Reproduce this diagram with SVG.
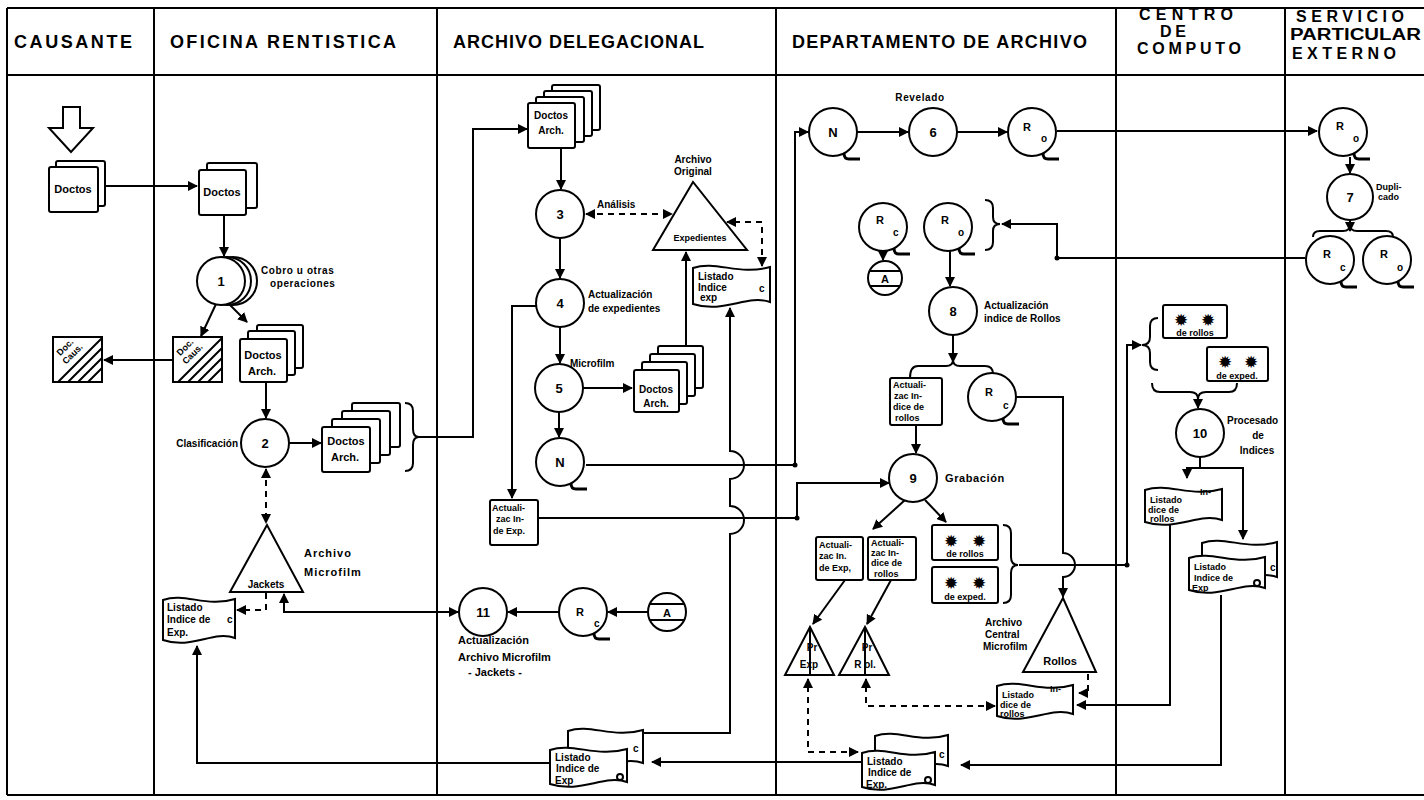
<svg xmlns="http://www.w3.org/2000/svg" xmlns:xlink="http://www.w3.org/1999/xlink" width="1424" height="800" viewBox="0 0 1424 800">
<style>
.ln{fill:none;stroke:#000;stroke-width:2}
.ds{fill:none;stroke:#000;stroke-width:2;stroke-dasharray:6 5}
.sh{fill:#fff;stroke:#000;stroke-width:2}
.t{font-family:"Liberation Sans",Arial,sans-serif;font-weight:bold;fill:#000}
.hd{font-size:18px}
.h2{font-size:16px}
.m{font-size:11px}
.s{font-size:10px}
.xs{font-size:9px}
.n{font-size:13px;text-anchor:middle}
.c{text-anchor:middle}
.st{font-family:"DejaVu Sans",sans-serif;font-size:17px;fill:#000;text-anchor:middle}
</style>
<defs>
<marker id="a" viewBox="0 0 10 10" refX="9" refY="5" markerWidth="10" markerHeight="10" markerUnits="userSpaceOnUse" orient="auto-start-reverse"><path d="M0,0 L10,5 L0,10 z" fill="#000"/></marker>
<g id="tape"><circle r="24" fill="#fff" stroke="#000" stroke-width="2"/><path d="M11,21 C11,25 12,27 16,27 H27" fill="none" stroke="#000" stroke-width="3"/></g>
</defs>
<rect width="1424" height="800" fill="#fff"/>

<g id="lanes" class="ln">
<path d="M7,8 H1424 M7,75 H1424 M7,795 H1424 M7,8 V795 M154,8 V795 M437,8 V795 M776,8 V795 M1116,8 V795 M1285,8 V795"/>
</g>
<g id="headers" class="t">
<text class="hd" x="14" y="48" textLength="118" lengthAdjust="spacing">CAUSANTE</text>
<text class="hd" x="170" y="48" textLength="226" lengthAdjust="spacing">OFICINA RENTISTICA</text>
<text class="hd" x="453" y="48" textLength="251" lengthAdjust="spacing">ARCHIVO DELEGACIONAL</text>
<text class="hd" x="792" y="48" textLength="295" lengthAdjust="spacing">DEPARTAMENTO DE ARCHIVO</text>
<text class="h2" x="1139" y="20" textLength="94" lengthAdjust="spacing">CENTRO</text>
<text class="h2" x="1160" y="37" textLength="26" lengthAdjust="spacing">DE</text>
<text class="h2" x="1137" y="54" textLength="104" lengthAdjust="spacing">COMPUTO</text>
<text class="h2" x="1296" y="22" textLength="108" lengthAdjust="spacing">SERVICIO</text>
<text class="h2" x="1290" y="40" textLength="131" lengthAdjust="spacingAndGlyphs">PARTICULAR</text>
<text class="h2" x="1292" y="59" textLength="104" lengthAdjust="spacing">EXTERNO</text>
</g>

<g id="connectors">
<g class="ln" marker-end="url(#a)">
<path d="M98,186 H197"/>
<path d="M173,360 H104"/>
<path d="M224,215 V256"/>
<path d="M216,304 L201,336"/>
<path d="M229,304 L247,322"/>
<path d="M266,382 V418"/>
<path d="M289,443 H321"/>
<path d="M419,437 H473 V129 H527"/>
<path d="M458,612 H284 V594" marker-start="url(#a)"/>
<path d="M550,763 H197 V646"/>
<path d="M561,148 V189"/>
<path d="M686,346 V252"/>
<path d="M643,733 H730 V534 A14,14 0 0 0 730,506 V479 A14,14 0 0 0 730,451 V308"/>
<path d="M560,238 V278"/>
<path d="M536,306 H512 V498"/>
<path d="M560,327 V363"/>
<path d="M583,388 H632"/>
<path d="M559,412 V437"/>
<path d="M586,465 H795 V132 H808"/>
<path d="M538,518 H797 V483 H889"/>
<path d="M559,612 H508"/>
<path d="M648,612 H608"/>
<path d="M862,762 H652"/>
<path d="M857,132 H908"/>
<path d="M957,132 H1007"/>
<path d="M1057,131 H1317"/>
<path d="M883,251 V260"/>
<path d="M950,251 V286"/>
<path d="M953,335 V362"/>
<path d="M1016,397 H1063 V553 A12,12 0 0 1 1063,577 V597"/>
<path d="M916,425 V453"/>
<path d="M905,500 L873,529"/>
<path d="M925,500 L946,522"/>
<path d="M845,580 L813,624"/>
<path d="M891,580 L867,624"/>
<path d="M1019,565 H1127 V345 H1141"/>
<path d="M1305,258 H1057 V224 H1002"/>
<path d="M1198,395 V408"/>
<path d="M1187,478 V468 H1243 V539" marker-start="url(#a)"/>
<path d="M1170,525 V705 H1077"/>
<path d="M1221,595 V765 H961"/>
<path d="M1350,157 V173"/>
<path d="M1350,220 V231"/>
</g>
<path class="ln" d="M1200,457 V468"/>
<g class="ds" marker-end="url(#a)" marker-start="url(#a)">
<path d="M266,469 V523"/>
<path d="M586,214 H672"/>
<path d="M762,266 V222 H727"/>
<path d="M858,752 H808 V679"/>
<path d="M995,706 H866 V679"/>
</g>
<g class="ds" marker-end="url(#a)">
<path d="M266,593 V610 H237"/>
<path d="M1088,674 V693 H1079"/>
</g>
<g fill="#000">
<circle cx="795" cy="465" r="2.5"/><circle cx="797" cy="518" r="2.5"/><circle cx="1127" cy="565" r="2.5"/><circle cx="1057" cy="258" r="2.5"/>
</g>
<g class="ln">
<path d="M405,403 Q413,403 413,411 V429 Q413,437 419,437 Q413,437 413,445 V463 Q413,471 405,471"/>
<path d="M985,200 Q993,200 993,208 V217 Q993,224 1000,224 Q993,224 993,231 V242 Q993,250 985,250"/>
<path d="M910,378 Q910,366 918,366 H946 Q953,366 953,360 Q953,366 960,366 H985 Q993,366 993,374"/>
<path d="M1003,525 Q1011,525 1011,533 V557 Q1011,565 1018,565 Q1011,565 1011,573 V595 Q1011,603 1003,603"/>
<path d="M1158,318 Q1150,318 1150,326 V337 Q1150,345 1142,345 Q1150,345 1150,353 V362 Q1150,370 1158,370"/>
<path d="M1152,383 Q1152,392 1160,392 H1190 Q1198,392 1198,399 Q1198,392 1206,392 H1229 Q1237,392 1237,383"/>
<path d="M1313,237 Q1313,231 1320,231 H1343 Q1350,231 1350,225 Q1350,231 1357,231 H1386 Q1393,231 1393,237"/>
</g>
</g>

<g id="causante-arrow"><polygon class="ln" points="63,107 80,107 80,128 93,128 71,152 49,128 63,128"/></g>
<g id="causante-doctos">
<rect class="sh" x="56" y="161" width="49" height="45" rx="2"/><rect class="sh" x="49" y="167" width="49" height="45" rx="2"/>
<text class="t m c" x="73" y="193">Doctos</text>
</g>
<g id="causante-doccaus">
<rect class="sh" x="53" y="337" width="49" height="45"/>
<path class="ln" d="M58,382 L102,338 M68,382 L102,348 M78,382 L102,358 M88,382 L102,368"/>
<text class="t xs" transform="translate(66,362) rotate(-45)"><tspan x="0" y="-8">Doc.</tspan><tspan x="-2" y="2">Caus.</tspan></text>
</g>

<g id="of-doctos">
<rect class="sh" x="207" y="163" width="50" height="45" rx="2"/><rect class="sh" x="199" y="170" width="47" height="45" rx="2"/>
<text class="t m c" x="222" y="196">Doctos</text>
</g>
<g id="p1">
<circle class="sh" cx="233" cy="281" r="24"/><circle class="sh" cx="227" cy="281" r="24"/><circle class="sh" cx="221" cy="281" r="24"/>
<text class="t n" x="221" y="286">1</text>
<text class="t s" x="261" y="274" letter-spacing="0.6">Cobro u otras</text>
<text class="t s" x="270" y="287" letter-spacing="0.6">operaciones</text>
</g>
<g id="of-doccaus">
<rect class="sh" x="173" y="337" width="49" height="45"/>
<path class="ln" d="M178,382 L222,338 M188,382 L222,348 M198,382 L222,358 M208,382 L222,368"/>
<text class="t xs" transform="translate(186,362) rotate(-45)"><tspan x="0" y="-8">Doc.</tspan><tspan x="-2" y="2">Caus.</tspan></text>
</g>
<g id="of-docarch">
<rect class="sh" x="257" y="325" width="46" height="43" rx="2"/><rect class="sh" x="248" y="331" width="47" height="44" rx="2"/><rect class="sh" x="240" y="339" width="47" height="43" rx="2"/>
<text class="t m c" x="263" y="359">Doctos</text><text class="t m c" x="262" y="375">Arch.</text>
</g>
<g id="p2">
<circle class="sh" cx="265" cy="443" r="24"/>
<text class="t n" x="265" y="448">2</text>
<text class="t s" x="238" y="447" text-anchor="end">Clasificación</text>
</g>
<g id="of-stack">
<rect class="sh" x="352" y="403" width="48" height="44" rx="2"/><rect class="sh" x="342" y="411" width="48" height="44" rx="2"/><rect class="sh" x="332" y="419" width="48" height="44" rx="2"/><rect class="sh" x="322" y="427" width="48" height="45" rx="2"/>
<text class="t m c" x="346" y="445">Doctos</text><text class="t m c" x="345" y="461">Arch.</text>
</g>
<g id="of-jackets">
<polygon class="sh" points="267,525 230,592 303,592"/>
<text class="t s c" x="266" y="588">Jackets</text>
<text class="t m" x="304" y="557" letter-spacing="1">Archivo</text>
<text class="t m" x="304" y="576" letter-spacing="1">Microfilm</text>
</g>
<g id="of-listado">
<path class="sh" d="M163,600 C185,592 206,608 235,599 V638 C213,630 192,650 163,640 Z"/>
<text class="t s" x="167" y="611">Listado</text><text class="t s" x="167" y="623">Indice de</text><text class="t s" x="227" y="623">c</text><text class="t s" x="167" y="636">Exp.</text>
</g>

<g id="ar-stack">
<rect class="sh" x="552" y="85" width="48" height="45" rx="2"/><rect class="sh" x="544" y="91" width="48" height="45" rx="2"/><rect class="sh" x="536" y="97" width="48" height="45" rx="2"/><rect class="sh" x="528" y="103" width="47" height="45" rx="2"/>
<text class="t s c" x="551" y="119">Doctos</text><text class="t s c" x="551" y="134">Arch.</text>
</g>
<g id="p3">
<circle class="sh" cx="560" cy="214" r="24"/>
<text class="t n" x="560" y="219">3</text>
<text class="t s" x="597" y="208">Análisis</text>
</g>
<g id="ar-original">
<polygon class="sh" points="693,182 653,250 747,250"/>
<text class="t s c" x="693" y="163">Archivo</text><text class="t s c" x="693" y="175">Original</text>
<text class="t xs c" x="700" y="241">Expedientes</text>
</g>
<g id="ar-listado1">
<path class="sh" d="M693,268 C716,260 739,276 770,267 V302 C747,294 724,314 693,304 Z"/>
<text class="t s" x="698" y="280">Listado</text><text class="t s" x="698" y="291">Indice</text><text class="t s" x="700" y="301">exp</text><text class="t s" x="759" y="292">c</text>
</g>
<g id="p4">
<circle class="sh" cx="560" cy="303" r="24"/>
<text class="t n" x="560" y="308">4</text>
<text class="t s" x="588" y="298">Actualización</text><text class="t s" x="588" y="312">de expedientes</text>
</g>
<g id="p5">
<circle class="sh" cx="559" cy="388" r="24"/>
<text class="t n" x="559" y="393">5</text>
<text class="t s" x="570" y="367">Microfilm</text>
</g>
<g id="ar-stack5">
<rect class="sh" x="658" y="346" width="45" height="42" rx="2"/><rect class="sh" x="650" y="354" width="45" height="42" rx="2"/><rect class="sh" x="642" y="362" width="45" height="42" rx="2"/><rect class="sh" x="634" y="370" width="45" height="42" rx="2"/>
<text class="t s c" x="656" y="393">Doctos</text><text class="t s c" x="656" y="407">Arch.</text>
</g>
<g id="ar-n"><use href="#tape" x="560" y="462"/><text class="t n" x="560" y="467">N</text></g>
<g id="ar-actexp">
<rect class="sh" x="490" y="500" width="48" height="45" rx="2"/>
<text class="t xs" x="492" y="511">Actuali-</text><text class="t xs" x="496" y="522">zac In-</text><text class="t xs" x="493" y="534">de Exp.</text>
</g>
<g id="p11">
<circle class="sh" cx="483" cy="612" r="24"/>
<text class="t n" x="483" y="617">11</text>
<text class="t m" x="458" y="644">Actualización</text><text class="t m" x="458" y="661">Archivo Microfilm</text><text class="t m" x="468" y="676">- Jackets -</text>
</g>
<g id="ar-rc"><use href="#tape" x="583" y="612"/><text class="t m" x="576" y="616">R</text><text class="t s" x="594" y="627">c</text></g>
<g id="ar-a">
<circle class="sh" cx="667" cy="612" r="19"/><path class="ln" d="M650,604 H684 M650,620 H684"/>
<text class="t m c" x="667" y="617">A</text>
</g>
<g id="ar-listado2">
<path class="sh" d="M568,731 C590,723 613,739 643,730 V763 C620,755 598,775 568,765 Z"/>
<path class="sh" d="M550,750 C573,742 596,758 627,749 V782 C604,774 581,794 550,784 Z"/>
<text class="t s" x="555" y="761">Listado</text><text class="t s" x="556" y="772">Indice de</text><text class="t s" x="555" y="784">Exp</text><text class="t s" x="633" y="752">c</text>
<circle class="ln" cx="620" cy="777" r="3"/>
</g>

<g id="de-n"><use href="#tape" x="833" y="132"/><text class="t n" x="833" y="137">N</text></g>
<g id="p6">
<circle class="sh" cx="933" cy="132" r="24"/><text class="t n" x="933" y="137">6</text>
<text class="t s c" x="920" y="101" letter-spacing="0.6">Revelado</text>
</g>
<g id="de-ro"><use href="#tape" x="1032" y="132"/><text class="t m" x="1023" y="131">R</text><text class="t s" x="1041" y="142">o</text></g>
<g id="de-rc"><use href="#tape" x="883" y="227"/><text class="t m" x="876" y="224">R</text><text class="t s" x="893" y="236">c</text></g>
<g id="de-a">
<circle class="sh" cx="885" cy="278" r="17"/><path class="ln" d="M870,271 H900 M870,286 H900"/>
<text class="t m c" x="885" y="283">A</text>
</g>
<g id="de-ro2"><use href="#tape" x="948" y="227"/><text class="t m" x="941" y="224">R</text><text class="t s" x="958" y="236">o</text></g>
<g id="p8">
<circle class="sh" cx="953" cy="311" r="24"/><text class="t n" x="953" y="316">8</text>
<text class="t s" x="984" y="309">Actualización</text><text class="t s" x="984" y="322">indice de Rollos</text>
</g>
<g id="de-actrollos">
<rect class="sh" x="890" y="378" width="52" height="47" rx="2"/>
<text class="t xs" x="893" y="388">Actuali-</text><text class="t xs" x="894" y="399">zac In-</text><text class="t xs" x="893" y="410">dice de</text><text class="t xs" x="895" y="421">rollos</text>
</g>
<g id="de-rc2"><use href="#tape" x="992" y="397"/><text class="t m" x="985" y="396">R</text><text class="t s" x="1003" y="409">c</text></g>
<g id="p9">
<circle class="sh" cx="913" cy="478" r="24"/><text class="t n" x="913" y="483">9</text>
<text class="t m" x="945" y="482" letter-spacing="0.6">Grabación</text>
</g>
<g id="de-actexp">
<rect class="sh" x="816" y="537" width="47" height="43" rx="2"/>
<text class="t xs" x="819" y="548">Actuali-</text><text class="t xs" x="819" y="559">zac In.</text><text class="t xs" x="819" y="571">de Exp,</text>
</g>
<g id="de-actrollos2">
<rect class="sh" x="868" y="537" width="48" height="43" rx="2"/>
<text class="t xs" x="871" y="546">Actuali-</text><text class="t xs" x="871" y="556">zac In-</text><text class="t xs" x="871" y="566">dice de</text><text class="t xs" x="874" y="577">rollos</text>
</g>
<g id="de-astrollos">
<rect class="sh" x="932" y="525" width="66" height="35" rx="2"/>
<text class="st" x="951" y="547">✹</text><text class="st" x="979" y="547">✹</text>
<text class="t xs c" x="965" y="557">de rollos</text>
</g>
<g id="de-astexped">
<rect class="sh" x="932" y="567" width="66" height="36" rx="2"/>
<text class="st" x="951" y="589">✹</text><text class="st" x="979" y="589">✹</text>
<text class="t xs c" x="965" y="600">de exped.</text>
</g>
<g id="de-prexp">
<polygon class="sh" points="810,627 785,675 834,675"/><path class="ln" d="M810,627 V675"/>
<text class="t s c" x="812" y="651">Pr</text><text class="t s c" x="809" y="668">Exp</text>
</g>
<g id="de-prrol">
<polygon class="sh" points="865,627 839,675 889,675"/><path class="ln" d="M865,627 V675"/>
<text class="t s c" x="867" y="651">Pr</text><text class="t s c" x="865" y="668">R ol.</text>
</g>
<g id="de-central">
<polygon class="sh" points="1063,598 1023,672 1096,672"/>
<text class="t m c" x="1060" y="665">Rollos</text>
<text class="t s" x="985" y="626">Archivo</text><text class="t s" x="985" y="638">Central</text><text class="t s" x="983" y="650">Microfilm</text>
</g>
<g id="de-listrollos">
<path class="sh" d="M997,686 C1020,678 1043,694 1073,685 V714 C1050,706 1027,726 997,716 Z"/>
<text class="t xs" x="1002" y="698">Listado</text><text class="t xs" x="1050" y="692">In-</text><text class="t xs" x="1000" y="708">dice de</text><text class="t xs" x="1000" y="717">rollos</text>
</g>
<g id="de-listexp">
<path class="sh" d="M875,736 C897,728 919,744 948,735 V766 C926,758 904,778 875,768 Z"/>
<path class="sh" d="M862,753 C884,745 906,761 935,752 V785 C913,777 891,797 862,787 Z"/>
<text class="t s" x="867" y="765">Listado</text><text class="t s" x="868" y="776">Indice de</text><text class="t s" x="866" y="788">Exp.</text><text class="t s" x="939" y="758">c</text>
<circle class="ln" cx="928" cy="780" r="3"/>
</g>

<g id="cc-astrollos">
<rect class="sh" x="1163" y="305" width="64" height="33" rx="2"/>
<text class="st" x="1181" y="326">✹</text><text class="st" x="1208" y="326">✹</text>
<text class="t xs c" x="1195" y="336">de rollos</text>
</g>
<g id="cc-astexped">
<rect class="sh" x="1207" y="347" width="61" height="34" rx="2"/>
<text class="st" x="1225" y="368">✹</text><text class="st" x="1251" y="368">✹</text>
<text class="t xs c" x="1237" y="379">de exped.</text>
</g>
<g id="p10">
<circle class="sh" cx="1200" cy="433" r="24"/><text class="t n" x="1200" y="438">10</text>
<text class="t s" x="1227" y="424">Procesado</text><text class="t s c" x="1258" y="439">de</text><text class="t s c" x="1257" y="454">Indices</text>
</g>
<g id="cc-listrollos">
<path class="sh" d="M1145,490 C1168,482 1191,498 1222,489 V520 C1199,512 1176,532 1145,522 Z"/>
<text class="t xs" x="1150" y="503">Listado</text><text class="t xs" x="1200" y="495">In-</text><text class="t xs" x="1148" y="513">dice de</text><text class="t xs" x="1150" y="522">rollos</text>
</g>
<g id="cc-listexp">
<path class="sh" d="M1202,543 C1224,535 1247,551 1277,542 V577 C1254,569 1232,589 1202,579 Z"/>
<path class="sh" d="M1189,558 C1212,550 1235,566 1265,557 V588 C1242,580 1219,600 1189,590 Z"/>
<text class="t xs" x="1194" y="570">Listado</text><text class="t xs" x="1194" y="581">Indice de</text><text class="t xs" x="1192" y="591">Exp</text><text class="t s" x="1270" y="571">c</text>
<circle class="ln" cx="1257" cy="583" r="3"/>
</g>

<g id="se-ro"><use href="#tape" x="1343" y="132"/><text class="t m" x="1336" y="130">R</text><text class="t s" x="1353" y="142">o</text></g>
<g id="p7">
<circle class="sh" cx="1350" cy="197" r="23"/><text class="t n" x="1350" y="202">7</text>
<text class="t xs" x="1376" y="190">Dupli-</text><text class="t xs" x="1378" y="200">cado</text>
</g>
<g id="se-rc"><use href="#tape" x="1330" y="260"/><text class="t m" x="1323" y="258">R</text><text class="t s" x="1340" y="271">c</text></g>
<g id="se-ro2"><use href="#tape" x="1387" y="260"/><text class="t m" x="1380" y="258">R</text><text class="t s" x="1397" y="271">o</text></g>
</svg>
